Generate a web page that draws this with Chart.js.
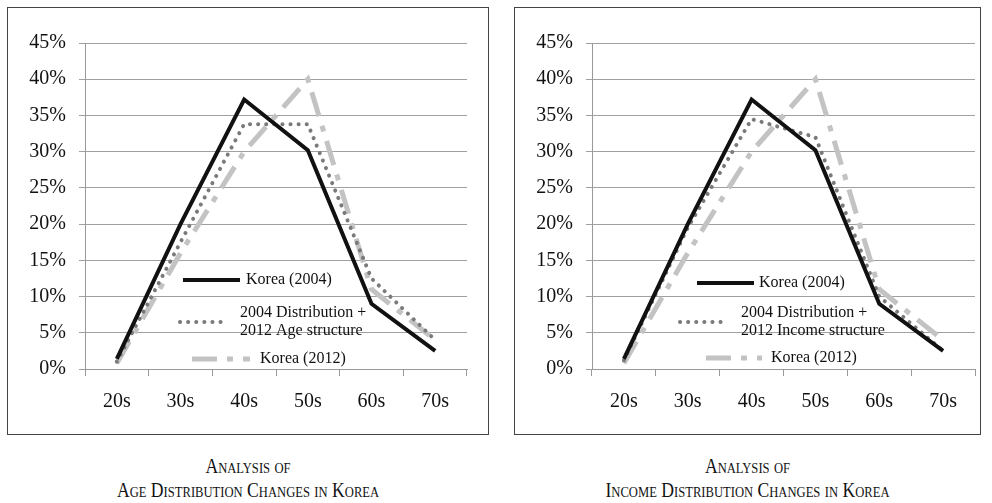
<!DOCTYPE html>
<html lang="en">
<head>
  <meta charset="UTF-8">
  <title>Age and Income Distribution Changes in Korea</title>
  <script src="https://cdn.jsdelivr.net/npm/chart.js"></script>
  <style>
    body {
      margin: 0;
      background: #fff;
      font-family: "Liberation Serif", "Times New Roman", serif;
    }
    .box {
      position: absolute;
      top: 7px;
      height: 428px;
      border: 1px solid #444;
      box-sizing: border-box;
    }
    .box canvas {
      display: block;
    }
    .caption {
      position: absolute;
      top: 454px;
      text-align: center;
      font-size: 21px;
      line-height: 24px;
      font-variant: small-caps;
      color: #111;
      transform: scaleX(0.84);
      transform-origin: center top;
    }
  </style>
</head>
<body>
  <div class="box" id="box-age" style="left:7px; width:482px;">
    <canvas id="grafico-idade"></canvas>
  </div>
  <div class="box" id="box-renda" style="left:514px; width:467px;">
    <canvas id="grafico-renda"></canvas>
  </div>
  <div class="caption" style="left:7px; width:482px;">Analysis of<br>Age Distribution Changes in Korea</div>
  <div class="caption" style="left:514px; width:467px;">Analysis of<br>Income Distribution Changes in Korea</div>

  <script>
    const faixas = ['20s', '30s', '40s', '50s', '60s', '70s'];
    const korea2004 = [1.4, 20, 37.2, 30.2, 9, 2.5];
    const korea2012 = [0.8, 16, 30, 40, 11, 4];
    const ajusteIdade = [1, 17.5, 33.8, 33.8, 12.5, 4];
    const ajusteRenda = [1.2, 19.5, 34.5, 32, 10, 2.5];
    const ticksY = [0, 5, 10, 15, 20, 25, 30, 35, 40, 45];

    const FAMILIA = 'Liberation Serif, Times New Roman, serif';
    Chart.defaults.font.family = FAMILIA;

    // legenda desenhada dentro da área do gráfico
    const legendaInterna = {
      id: 'legendaInterna',
      afterDatasetsDraw(chart, args, opts) {
        const ctx = chart.ctx;
        const a = chart.chartArea;
        ctx.save();
        ctx.font = '16px ' + FAMILIA;
        ctx.fillStyle = '#111';
        ctx.textBaseline = 'middle';
        opts.items.forEach((it) => {
          const ds = chart.data.datasets[it.ds];
          ctx.strokeStyle = ds.borderColor;
          ctx.lineWidth = ds.borderWidth;
          ctx.lineCap = ds.borderCapStyle || 'butt';
          ctx.setLineDash(ds.borderDash || []);
          ctx.beginPath();
          ctx.moveTo(a.left + it.x1, it.y);
          ctx.lineTo(a.left + it.x2, it.y);
          ctx.stroke();
          it.text.forEach((t, i) => {
            ctx.fillText(t, a.left + it.tx, it.ty + i * 18);
          });
        });
        ctx.restore();
      }
    };

    function montarGrafico(id, largura, padDir, serieAjuste, nomeAjuste, itensLegenda) {
      const canvas = document.getElementById(id);
      canvas.width = largura;
      canvas.height = 426;
      new Chart(canvas, {
        type: 'line',
        data: {
          labels: faixas,
          datasets: [
            {
              label: 'Korea (2004)',
              data: korea2004,
              borderColor: '#111',
              borderWidth: 4,
              pointRadius: 0,
              tension: 0
            },
            {
              label: nomeAjuste,
              data: serieAjuste,
              borderColor: '#7a7a7a',
              borderWidth: 4,
              borderDash: [0.1, 8],
              borderCapStyle: 'round',
              pointRadius: 0,
              tension: 0
            },
            {
              label: 'Korea (2012)',
              data: korea2012,
              borderColor: '#c3c3c3',
              borderWidth: 5,
              borderDash: [25, 10, 6, 10],
              pointRadius: 0,
              tension: 0
            }
          ]
        },
        options: {
          responsive: false,
          animation: false,
          layout: { padding: { top: 35, right: padDir, left: 0, bottom: 0 } },
          plugins: {
            legend: { display: false },
            tooltip: { enabled: false },
            legendaInterna: { items: itensLegenda }
          },
          scales: {
            x: {
              offset: true,
              grid: { drawOnChartArea: false, offset: true, tickLength: 7, color: '#999' },
              border: { color: '#999' },
              ticks: { padding: 14, color: '#111', font: { family: FAMILIA, size: 20 } },
              afterFit: (s) => { s.height = 65; }
            },
            y: {
              min: 0,
              max: 45,
              afterBuildTicks: (s) => { s.ticks = ticksY.map((v) => ({ value: v })); },
              grid: { color: '#a0a0a0', tickLength: 6 },
              border: { color: '#999' },
              ticks: {
                padding: 13,
                color: '#111',
                font: { family: FAMILIA, size: 20 },
                callback: (v) => v + '%'
              },
              afterFit: (s) => { s.width = 77; }
            }
          }
        },
        plugins: [legendaInterna]
      });
    }

    function desenharTudo() {
      montarGrafico('grafico-idade', 480, 21, ajusteIdade, '2004 Distribution + 2012 Age structure', [
        { ds: 0, x1: 98, x2: 155, y: 272, tx: 161, ty: 272, text: ['Korea (2004)'] },
        { ds: 1, x1: 95, x2: 143, y: 314, tx: 155, ty: 305, text: ['2004 Distribution +', '2012 Age structure'] },
        { ds: 2, x1: 107, x2: 165, y: 351, tx: 175, ty: 351, text: ['Korea (2012)'] }
      ]);

      montarGrafico('grafico-renda', 465, 5, ajusteRenda, '2004 Distribution + 2012 Income structure', [
        { ds: 0, x1: 105, x2: 162, y: 275, tx: 167, ty: 275, text: ['Korea (2004)'] },
        { ds: 1, x1: 88, x2: 136, y: 314, tx: 149, ty: 305, text: ['2004 Distribution +', '2012 Income structure'] },
        { ds: 2, x1: 114, x2: 170, y: 350, tx: 179, ty: 350, text: ['Korea (2012)'] }
      ]);
    }

    document.fonts.load('16px "Liberation Serif"').then(desenharTudo, desenharTudo);
  </script>
</body>
</html>
